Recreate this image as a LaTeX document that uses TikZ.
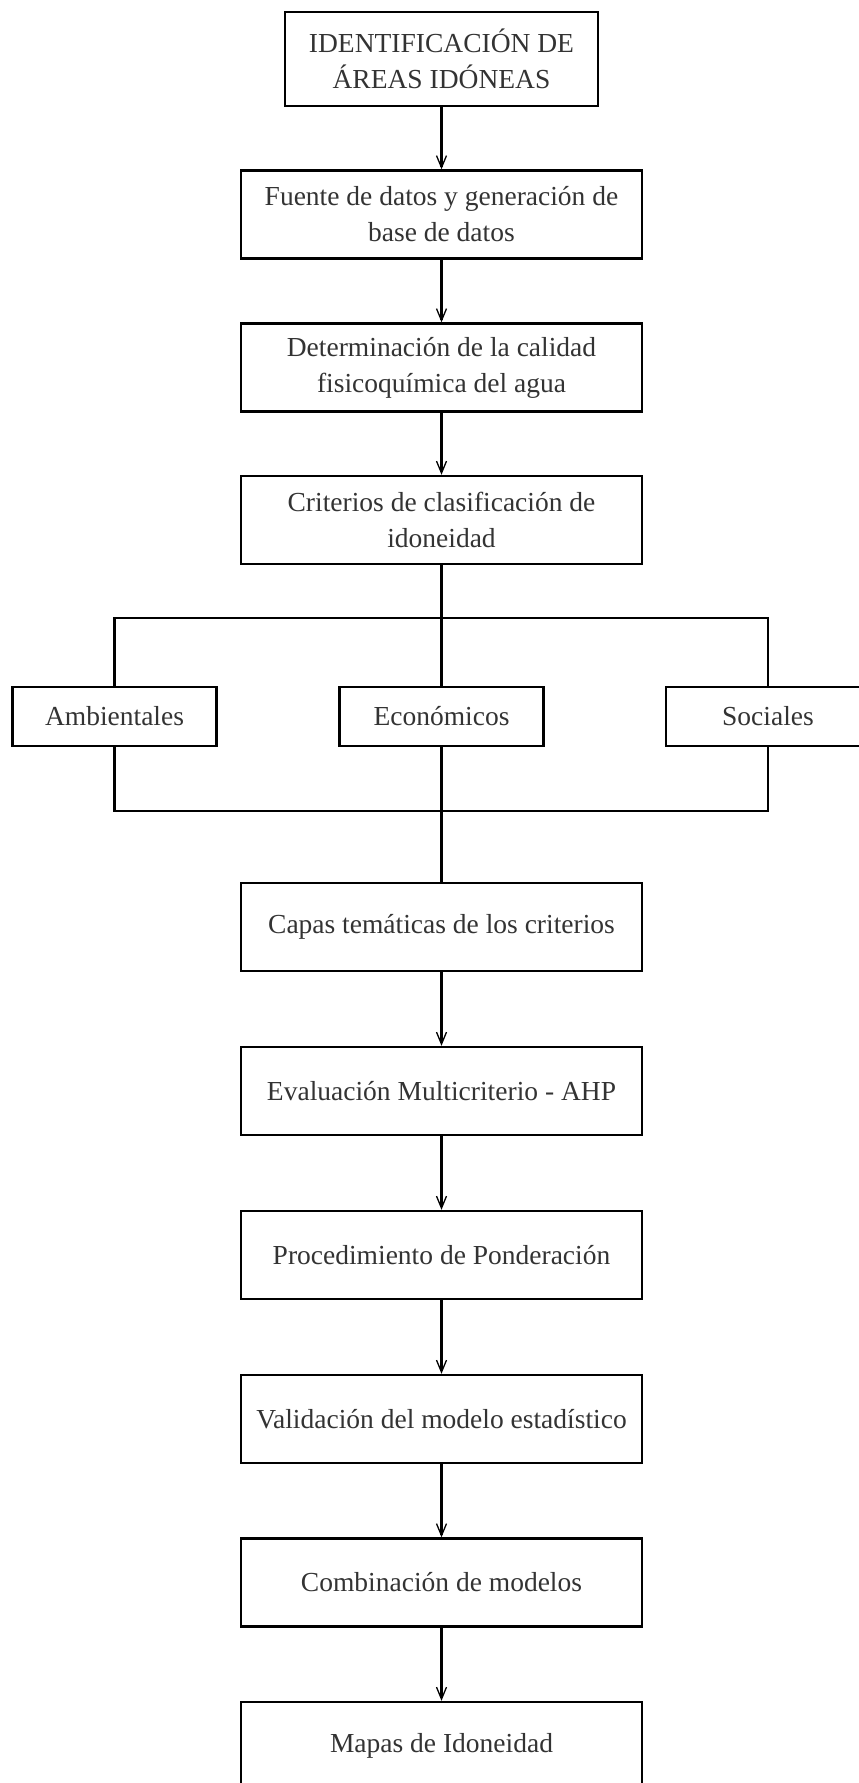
\documentclass[tikz,border=0pt]{standalone}
\usepackage{fontspec}
\setmainfont{Liberation Serif}
\usetikzlibrary{arrows.meta}
\begin{document}
\begin{tikzpicture}[x=1pt,y=-1pt,
  box/.style={draw=black,line width=2.4pt,rectangle,minimum width=401pt,minimum height=88pt,
    align=center,inner sep=0pt,text=black!80,font=\fontsize{27.5}{36}\selectfont},
  smallbox/.style={box,minimum width=204pt,minimum height=59pt},
  topbox/.style={box,minimum width=313pt,minimum height=94pt},
  arr/.style={line width=2.4pt,-{Straight Barb[length=12pt,width=10pt,line width=1.3pt]}},
  ln/.style={line width=2.4pt}]
\clip (0,0) rectangle (859,1783);
\node[topbox] (t) at (441.5,59) {IDENTIFICACIÓN DE\\ÁREAS IDÓNEAS};
\node[box] (b2) at (441.5,214.5) {Fuente de datos y generación de\\base de datos};
\node[box] (b3) at (441.5,367.5) {Determinación de la calidad\\fisicoquímica del agua};
\node[box] (b4) at (441.5,520) {Criterios de clasificación de\\idoneidad};
\node[smallbox] (amb) at (114.5,716.5) {Ambientales};
\node[smallbox] (eco) at (441.5,716.5) {Económicos};
\node[smallbox] (soc) at (768,716.5) {Sociales};
\node[box] (b6) at (441.5,927) {Capas temáticas de los criterios};
\node[box] (b7) at (441.5,1091) {Evaluación Multicriterio - AHP};
\node[box] (b8) at (441.5,1255) {Procedimiento de Ponderación};
\node[box] (b9) at (441.5,1419) {Validación del modelo estadístico};
\node[box] (b10) at (441.5,1582.5) {Combinación de modelos};
\node[box] (b11) at (441.5,1746) {Mapas de Idoneidad};
\coordinate (s1) at (441.5,618);
\coordinate (s2) at (441.5,811);
\draw[arr] (t) -- (b2);
\draw[arr] (b2) -- (b3);
\draw[arr] (b3) -- (b4);
\draw[ln] (b4) -- (s1);
\draw[ln] (s1) -| (amb);
\draw[ln] (s1) -| (soc);
\draw[ln] (s1) -- (eco);
\draw[ln] (amb) |- (s2);
\draw[ln] (soc) |- (s2);
\draw[ln] (eco) -- (s2);
\draw[ln] (s2) -- (b6);
\draw[arr] (b6) -- (b7);
\draw[arr] (b7) -- (b8);
\draw[arr] (b8) -- (b9);
\draw[arr] (b9) -- (b10);
\draw[arr] (b10) -- (b11);
\end{tikzpicture}
\end{document}
